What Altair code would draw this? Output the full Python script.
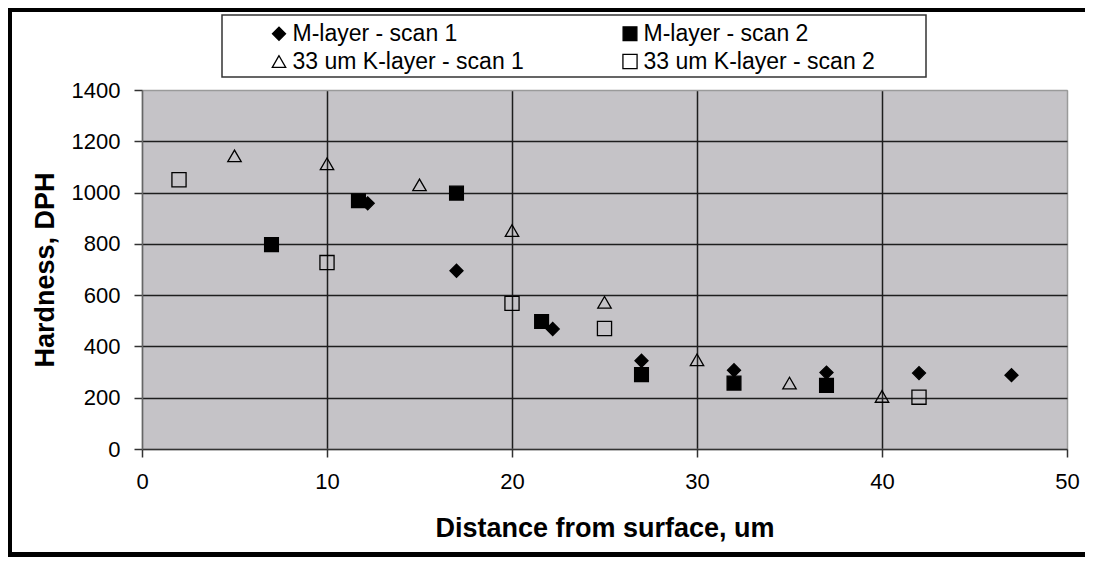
import altair as alt
import pandas as pd

# ---- data ----
# legend order (entries are laid out column by column): M1, K1 | M2, K2
series_names = ["M-layer - scan 1", "33 um K-layer - scan 1",
                "M-layer - scan 2", "33 um K-layer - scan 2"]

m1_x = [12.2, 17, 22.2, 27, 32, 37, 42, 47]
m1_y = [958, 695, 468, 344, 307, 298, 296, 288]

m2_x = [7, 11.7, 17, 21.6, 27, 32, 37]
m2_y = [797, 968, 998, 497, 290, 257, 248]

k1_x = [5, 10, 15, 20, 25, 30, 35, 40]
k1_y = [1143, 1112, 1030, 852, 572, 348, 257, 205]

k2_x = [2, 10, 20, 25, 42]
k2_y = [1050, 727, 568, 470, 202]

x_ticks = [0, 10, 20, 30, 40, 50]
y_ticks = [0, 200, 400, 600, 800, 1000, 1200, 1400]

rows = []
for name, xs, ys in zip(["M-layer - scan 1", "M-layer - scan 2",
                         "33 um K-layer - scan 1", "33 um K-layer - scan 2"],
                        [m1_x, m2_x, k1_x, k2_x], [m1_y, m2_y, k1_y, k2_y]):
    for xv, yv in zip(xs, ys):
        rows.append({"series": name, "dist": xv, "hard": yv})
df = pd.DataFrame(rows)

# ---- layout ----
PLOT_W, PLOT_H = 925, 359
PAD_L, PAD_T = 134, 82
TOTAL_W, TOTAL_H = 1077, 549
PAD_R = TOTAL_W - PAD_L - PLOT_W
PAD_B = TOTAL_H - PAD_T - PLOT_H
FONT = "Liberation Sans"

shapes = ["diamond", "triangle-up", "square", "square"]
fills = ["black", "transparent", "black", "transparent"]
strokes = ["black", "black", "black", "black"]
sizes = [170, 200, 185, 170]

legend = alt.Legend(
    orient="none", legendX=125.5, legendY=-68, columns=2, title=None,
    labelFont=FONT, labelFontSize=23, labelColor="black", labelOffset=2,
    columnPadding=94, rowPadding=4, padding=0, labelLimit=500,
    symbolStrokeColor="black", symbolStrokeWidth=1.3,
)

grid_x = {"condition": {"test": "datum.value === 0 || datum.value === 50", "value": "#9a9a9a"},
          "value": "#1e1e1e"}
grid_y = {"condition": {"test": "datum.value === 0 || datum.value === 1400", "value": "#9a9a9a"},
          "value": "#1e1e1e"}

points = alt.Chart(df).mark_point(filled=True, strokeWidth=1.3, opacity=1).encode(
    x=alt.X("dist:Q",
            scale=alt.Scale(domain=[0, 50], nice=False, zero=False),
            axis=alt.Axis(values=x_ticks, grid=True, gridColor=grid_x, gridWidth=1.5,
                          domainColor="#333333", domainWidth=1.5,
                          tickColor="#333333", tickSize=8, tickWidth=1.5,
                          labelFont=FONT, labelFontSize=22, labelColor="black",
                          labelPadding=14, labelFlush=False, labelOverlap=False, format="d",
                          title="Distance from surface, um", titleFont=FONT,
                          titleFontSize=27, titleFontWeight="bold", titleColor="black",
                          titleY=79, titleBaseline="middle")),
    y=alt.Y("hard:Q",
            scale=alt.Scale(domain=[0, 1400], nice=False, zero=False),
            axis=alt.Axis(values=y_ticks, grid=True, gridColor=grid_y, gridWidth=1.5,
                          domainColor="#666666", domainWidth=1.5,
                          tickColor="#333333", tickSize=8, tickWidth=1.5,
                          labelFont=FONT, labelFontSize=22, labelColor="black",
                          labelPadding=14, labelFlush=False, labelOverlap=False, format="d",
                          title="Hardness, DPH", titleFont=FONT,
                          titleFontSize=27, titleFontWeight="bold", titleColor="black",
                          titleX=-97, titleBaseline="middle")),
    shape=alt.Shape("series:N", scale=alt.Scale(domain=series_names, range=shapes), legend=legend),
    fill=alt.Fill("series:N", scale=alt.Scale(domain=series_names, range=fills), legend=legend),
    stroke=alt.Stroke("series:N", scale=alt.Scale(domain=series_names, range=strokes), legend=legend),
    size=alt.Size("series:N", scale=alt.Scale(domain=series_names, range=sizes), legend=legend),
)

one = pd.DataFrame({"k": [0]})

legend_box = alt.Chart(one).mark_rect(fill="white", stroke="#333333", strokeWidth=1.5).encode(
    x=alt.value(80), x2=alt.value(784), y=alt.value(-75), y2=alt.value(-13))

frame_top = alt.Chart(one).mark_rule(color="black", strokeWidth=4).encode(
    x=alt.value(-PAD_L), x2=alt.value(TOTAL_W - PAD_L), y=alt.value(-PAD_T + 2))
frame_left = alt.Chart(one).mark_rule(color="black", strokeWidth=4).encode(
    x=alt.value(-PAD_L + 2), y=alt.value(-PAD_T), y2=alt.value(TOTAL_H - PAD_T))
frame_bottom = alt.Chart(one).mark_rule(color="black", strokeWidth=5).encode(
    x=alt.value(-PAD_L), x2=alt.value(TOTAL_W - PAD_L), y=alt.value(TOTAL_H - PAD_T - 2.5))

chart = alt.layer(frame_top, frame_left, frame_bottom, legend_box, points).properties(
    width=PLOT_W, height=PLOT_H,
    autosize=alt.AutoSizeParams(type="none"),
    padding={"left": PAD_L, "top": PAD_T, "right": PAD_R, "bottom": PAD_B},
    background="white",
).configure_view(fill="#c5c3c7", stroke="#9a9a9a", strokeWidth=1)

chart.save("out.html", embed_options={"renderer": "svg", "actions": False})
